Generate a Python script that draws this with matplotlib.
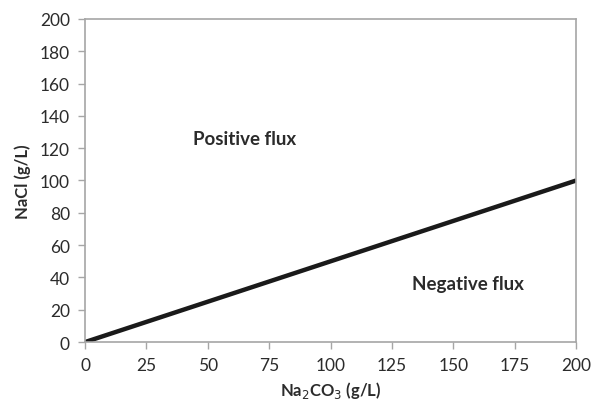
import matplotlib
matplotlib.use("Agg")
import matplotlib.pyplot as plt

# boundary between positive and negative flux
na2co3 = [0, 200]
nacl = [0, 100]

x_ticks = [0, 25, 50, 75, 100, 125, 150, 175, 200]
y_ticks = [0, 20, 40, 60, 80, 100, 120, 140, 160, 180, 200]

plt.rcParams['font.family'] = ['Lato', 'DejaVu Sans']

fig = plt.figure(figsize=(5.91, 4.06), dpi=100)
ax = fig.add_axes([0.144, 0.155, 0.831, 0.796])

ax.plot(na2co3, nacl, color="#1a1a1a", linewidth=3.2, solid_capstyle="butt")

ax.set_xlim(0, 200)
ax.set_ylim(0, 200)
ax.set_xticks(x_ticks)
ax.set_yticks(y_ticks)

for s in ax.spines.values():
    s.set_color("#a6a6a6")
    s.set_linewidth(1.2)
ax.tick_params(direction="out", length=5, width=1, color="#a6a6a6",
               labelsize=12.5, labelcolor="#2b2b2b", pad=6)

ax.set_xlabel("Na$_2$CO$_3$ (g/L)", fontsize=12, fontweight="bold", color="#2b2b2b")
ax.set_ylabel("NaCl (g/L)", fontsize=12, fontweight="bold", color="#2b2b2b", labelpad=6)

ax.text(65, 126, "Positive flux", ha="center", va="center", fontsize=13.5,
        fontweight="bold", color="#2b2b2b")
ax.text(156, 36, "Negative flux", ha="center", va="center", fontsize=13.5,
        fontweight="bold", color="#2b2b2b")

fig.savefig("out.png", dpi=100)
